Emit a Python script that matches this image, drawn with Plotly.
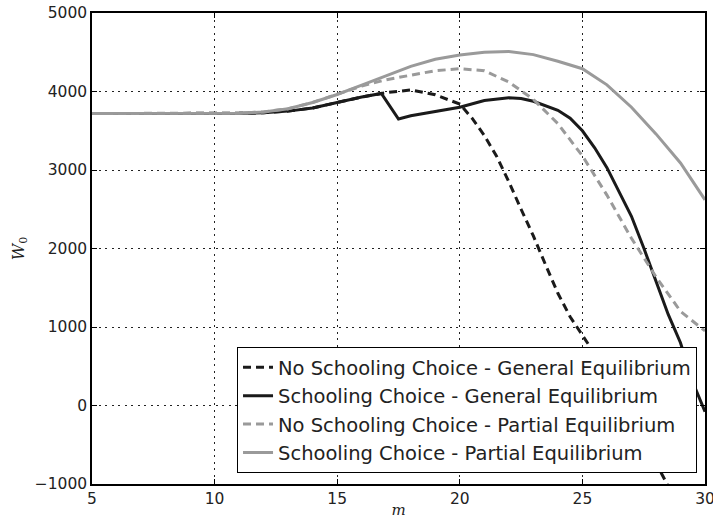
import plotly.graph_objects as go

# NSC GE: No Schooling Choice - General Equilibrium
x_nsc_ge = [5, 6, 7, 8, 9, 10, 11, 12, 13, 14, 15, 16, 17, 18, 19, 20, 20.5, 21, 21.5, 22, 22.5, 23,
            23.5, 24, 24.5, 25, 25.5, 26, 26.5, 27, 27.5, 28, 28.5, 29, 29.5, 30]
y_nsc_ge = [3720, 3720, 3720, 3720, 3720, 3720, 3722, 3730, 3750, 3790, 3862, 3930, 3985, 4020, 3958,
            3840, 3660, 3440, 3176, 2850, 2500, 2160, 1790, 1430, 1130, 900, 660, 400, 130, -150, -430,
            -720, -1020, -1330, -1650, -1980]

# SC GE: Schooling Choice - General Equilibrium
x_sc_ge = [5, 6, 7, 8, 9, 10, 11, 12, 13, 14, 15, 16, 16.8, 17.5, 18, 19, 20, 21, 22, 22.5, 23, 24,
           24.5, 25, 25.5, 26, 26.5, 27, 27.5, 28, 28.5, 29, 29.5, 30]
y_sc_ge = [3720, 3720, 3720, 3720, 3720, 3720, 3722, 3730, 3750, 3790, 3862, 3930, 3975, 3650, 3690,
           3745, 3800, 3885, 3920, 3910, 3875, 3760, 3660, 3500, 3283, 3030, 2730, 2411, 2009, 1590,
           1160, 800, 300, -80]

# NSC PE: No Schooling Choice - Partial Equilibrium
x_nsc_pe = [5, 6, 7, 8, 9, 10, 11, 12, 13, 14, 15, 16, 17, 18, 19, 20, 21, 22, 23, 24, 25, 26, 27,
            28, 29, 30]
y_nsc_pe = [3720, 3720, 3720, 3720, 3720, 3720, 3724, 3740, 3780, 3860, 3962, 4070, 4150, 4210, 4265,
            4290, 4265, 4120, 3900, 3590, 3180, 2680, 2130, 1640, 1200, 950]

# SC PE: Schooling Choice - Partial Equilibrium
x_sc_pe = [5, 6, 7, 8, 9, 10, 11, 12, 13, 14, 15, 16, 17, 18, 19, 20, 21, 22, 23, 24, 25, 26, 27,
           28, 29, 30]
y_sc_pe = [3720, 3720, 3720, 3720, 3720, 3720, 3724, 3740, 3780, 3860, 3962, 4080, 4200, 4320, 4410,
           4465, 4500, 4510, 4470, 4385, 4290, 4085, 3800, 3460, 3090, 2620]

names = ["No Schooling Choice - General Equilibrium",
         "Schooling Choice - General Equilibrium",
         "No Schooling Choice - Partial Equilibrium",
         "Schooling Choice - Partial Equilibrium"]

BLACK = "#1a1a1a"
GRAY = "#9a9a9a"

fig = go.Figure()
fig.add_trace(go.Scatter(x=x_nsc_ge, y=y_nsc_ge, mode="lines", name=names[0],
                         line=dict(color=BLACK, width=3, dash="8px,5px")))
fig.add_trace(go.Scatter(x=x_sc_ge, y=y_sc_ge, mode="lines", name=names[1],
                         line=dict(color=BLACK, width=3)))
fig.add_trace(go.Scatter(x=x_nsc_pe, y=y_nsc_pe, mode="lines", name=names[2],
                         line=dict(color=GRAY, width=3, dash="8px,5px")))
fig.add_trace(go.Scatter(x=x_sc_pe, y=y_sc_pe, mode="lines", name=names[3],
                         line=dict(color=GRAY, width=3)))

axis_common = dict(
    showline=True, linecolor="black", linewidth=1.5, mirror="ticks",
    ticks="inside", ticklen=5, tickcolor="black", tickwidth=1,
    showgrid=True, gridcolor="#222222", gridwidth=1, griddash="2px,4.5px",
    zeroline=False, automargin=False, ticklabeloverflow="allow",
    tickfont=dict(family="DejaVu Sans", size=15.5, color="#222222"),
)

fig.update_layout(
    width=713, height=519,
    margin=dict(l=92, r=8, t=13, b=35),
    plot_bgcolor="white", paper_bgcolor="white",
    xaxis=dict(range=[5, 30], tickvals=[5, 10, 15, 20, 25, 30],
               title=dict(text="<i>m</i>", standoff=0,
                          font=dict(family="DejaVu Serif", size=15, color="#222222")),
               **axis_common),
    yaxis=dict(range=[-1000, 5000], tickvals=[-1000, 0, 1000, 2000, 3000, 4000, 5000],
               title=dict(text="<i>W</i><sub>0</sub>", standoff=6,
                          font=dict(family="DejaVu Serif", size=16, color="#222222")),
               **axis_common),
    legend=dict(x=0.987, y=0.023, xanchor="right", yanchor="bottom",
                bgcolor="white", bordercolor="black", borderwidth=1,
                font=dict(family="DejaVu Sans", size=19.5, color="#222222"),
                tracegroupgap=0),
    showlegend=True,
)

fig.write_html("out.html",
               config={"displayModeBar": False},
               post_script="document.body.style.margin='0';document.body.style.overflow='hidden';")
